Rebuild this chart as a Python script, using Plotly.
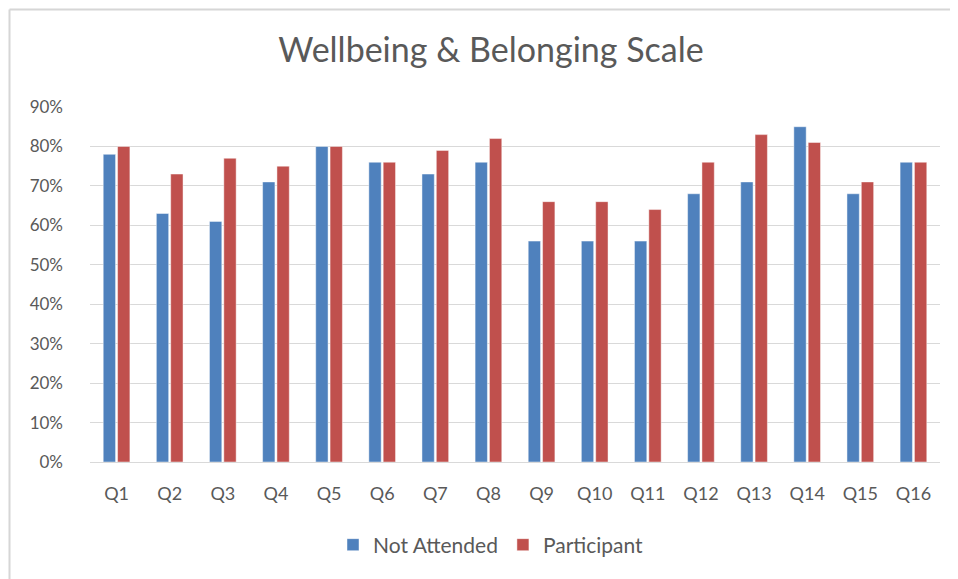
import plotly.graph_objects as go

categories = ["Q1", "Q2", "Q3", "Q4", "Q5", "Q6", "Q7", "Q8",
              "Q9", "Q10", "Q11", "Q12", "Q13", "Q14", "Q15", "Q16"]
not_attended = [0.78, 0.63, 0.61, 0.71, 0.80, 0.76, 0.73, 0.76,
                0.56, 0.56, 0.56, 0.68, 0.71, 0.85, 0.68, 0.76]
participant = [0.80, 0.73, 0.77, 0.75, 0.80, 0.76, 0.79, 0.82,
               0.66, 0.66, 0.64, 0.76, 0.83, 0.81, 0.71, 0.76]
y_ticks = [0, 0.1, 0.2, 0.3, 0.4, 0.5, 0.6, 0.7, 0.8, 0.9]

FONT = "Lato"
GRAY = "#595959"

fig = go.Figure()
fig.add_trace(go.Bar(x=categories, y=not_attended, name="Not Attended",
                     marker=dict(color="#4F81BD",
                                 line=dict(color="rgba(255,255,255,0.45)", width=1))))
fig.add_trace(go.Bar(x=categories, y=participant, name="Participant",
                     marker=dict(color="#C0504D",
                                 line=dict(color="rgba(255,255,255,0.45)", width=1))))

OFF = 8  # page body margin
# target plot area in page pixels: x 90..940, y 107..462
L, T = 90 - OFF, 107 - OFF
W, H = 958 - OFF, 579 - OFF
R = W - (940 - OFF)
B = H - (462 - OFF)
pw, ph = W - L - R, H - T - B

def px(x):  # page pixel x -> paper
    return (x - OFF - L) / pw

def py(y):  # page pixel y -> paper
    return 1 - (y - OFF - T) / ph

fig.update_layout(
    width=W, height=H,
    margin=dict(l=L, r=R, t=T, b=B),
    paper_bgcolor="white", plot_bgcolor="white",
    barmode="group", bargap=0.46, bargroupgap=0.14,
    font=dict(family=FONT, color=GRAY, size=16),
    title=dict(text="Wellbeing &amp; Belonging Scale", x=px(491), xanchor="center",
               xref="paper", y=1 - (50 - OFF) / H, yanchor="middle",
               font=dict(family=FONT, size=34, color=GRAY)),
    legend=dict(orientation="h", x=px(491), xanchor="center", y=py(545), yanchor="middle",
                font=dict(family=FONT, size=21, color=GRAY),
                itemwidth=30, traceorder="normal"),
    showlegend=True,
    shapes=[
        dict(type="line", xref="paper", yref="paper", x0=px(9.5), x1=px(9.5),
             y0=py(9.5), y1=py(600), line=dict(color="#d6d6d6", width=2)),
        dict(type="line", xref="paper", yref="paper", x0=px(9.5), x1=px(970),
             y0=py(9.5), y1=py(9.5), line=dict(color="#d6d6d6", width=2)),
    ],
)
fig.update_xaxes(showgrid=False, showline=True, linecolor="#d9d9d9", linewidth=1,
                 ticks="", ticklabelstandoff=15,
                 tickfont=dict(family=FONT, size=18, color=GRAY))
fig.update_yaxes(range=[0, 0.9], tickvals=y_ticks, tickformat=".0%",
                 showgrid=True, gridcolor="#d9d9d9", gridwidth=1,
                 zeroline=False, showline=False, ticks="", ticklabelstandoff=26,
                 tickfont=dict(family=FONT, size=17, color=GRAY))

fig.write_html("out.html", config={"displayModeBar": False})
